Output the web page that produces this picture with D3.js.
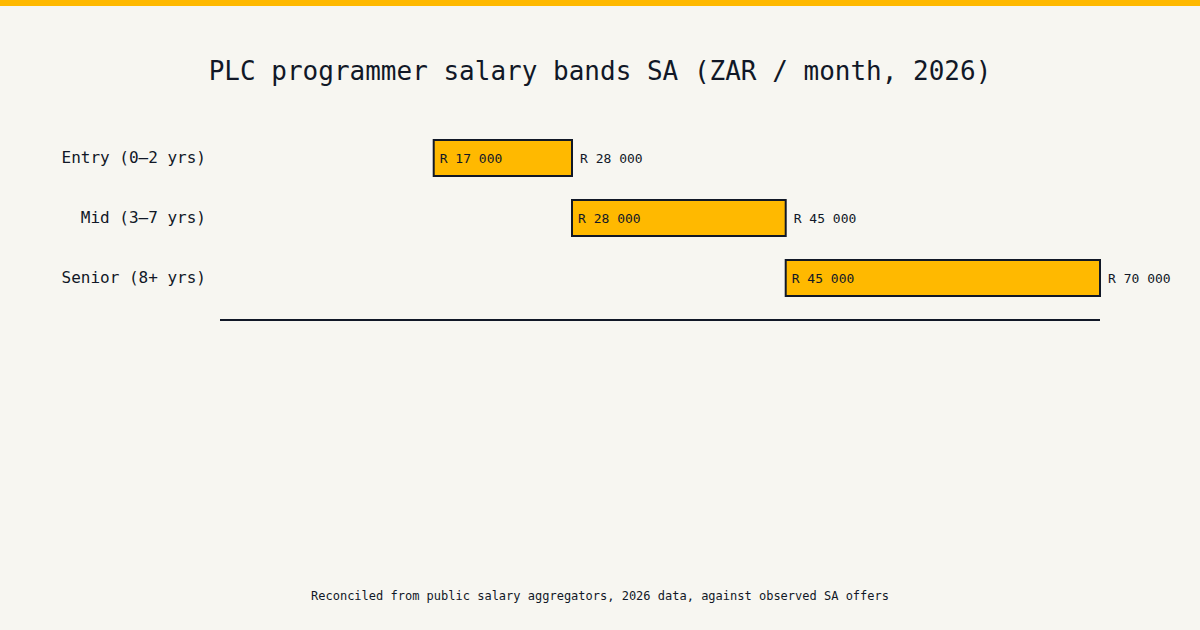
<!DOCTYPE html>
<html>
<head>
<meta charset="utf-8">
<script src="https://cdn.jsdelivr.net/npm/d3@7"></script>
<style>
  html, body { margin: 0; padding: 0; background: #f7f6f1; }
  svg { display: block; font-family: "DejaVu Sans Mono", monospace; }
</style>
</head>
<body>
<div class="chart"></div>
<script>
// salary bands, ZAR per month
const bands = ['Entry (0–2 yrs)', 'Mid (3–7 yrs)', 'Senior (8+ yrs)'];
const lowValues = [17000, 28000, 45000];
const highValues = [28000, 45000, 70000];

const title = 'PLC programmer salary bands SA (ZAR / month, 2026)';
const footnote = 'Reconciled from public salary aggregators, 2026 data, against observed SA offers';

const width = 1200, height = 630;
const ink = '#111827';
const gold = '#ffb900';

const data = bands.map((name, i) => ({name, lo: lowValues[i], hi: highValues[i]}));

const fmt = v => 'R ' + d3.format(',')(v).replace(/,/g, ' ');

const svg = d3.select('.chart').append('svg')
  .attr('width', width)
  .attr('height', height);

svg.append('rect')
  .attr('width', width).attr('height', height)
  .attr('fill', '#f7f6f1');

// top accent strip
svg.append('rect')
  .attr('width', width).attr('height', 6)
  .attr('fill', gold);

svg.append('text')
  .attr('x', width / 2).attr('y', 80)
  .attr('text-anchor', 'middle')
  .attr('font-size', 26)
  .attr('fill', ink)
  .text(title);

const x = d3.scaleLinear()
  .domain([0, d3.max(highValues)])
  .range([220, 1100]);

const y = d3.scaleBand()
  .domain(bands)
  .range([128, 308])
  .paddingInner(0.4)
  .paddingOuter(0.2);

// baseline
svg.append('line')
  .attr('x1', x.range()[0]).attr('x2', x.range()[1])
  .attr('y1', 320).attr('y2', 320)
  .attr('stroke', ink)
  .attr('stroke-width', 2);

const rows = svg.selectAll('g.band')
  .data(data)
  .enter().append('g')
    .attr('class', 'band');

rows.append('rect')
  .attr('x', d => x(d.lo))
  .attr('y', d => y(d.name))
  .attr('width', d => x(d.hi) - x(d.lo))
  .attr('height', y.bandwidth())
  .attr('fill', gold)
  .attr('stroke', ink)
  .attr('stroke-width', 2);

rows.append('text')
  .attr('x', 206)
  .attr('y', d => y(d.name) + y.bandwidth() / 2)
  .attr('dy', '0.32em')
  .attr('text-anchor', 'end')
  .attr('font-size', 16)
  .attr('fill', ink)
  .text(d => d.name);

rows.append('text')
  .attr('x', d => x(d.lo) + 6)
  .attr('y', d => y(d.name) + y.bandwidth() / 2)
  .attr('dy', '0.35em')
  .attr('font-size', 13)
  .attr('fill', ink)
  .text(d => fmt(d.lo));

rows.append('text')
  .attr('x', d => x(d.hi) + 8)
  .attr('y', d => y(d.name) + y.bandwidth() / 2)
  .attr('dy', '0.35em')
  .attr('font-size', 13)
  .attr('fill', ink)
  .text(d => fmt(d.hi));

svg.append('text')
  .attr('x', width / 2).attr('y', 600)
  .attr('text-anchor', 'middle')
  .attr('font-size', 12)
  .attr('fill', ink)
  .text(footnote);
</script>
</body>
</html>
